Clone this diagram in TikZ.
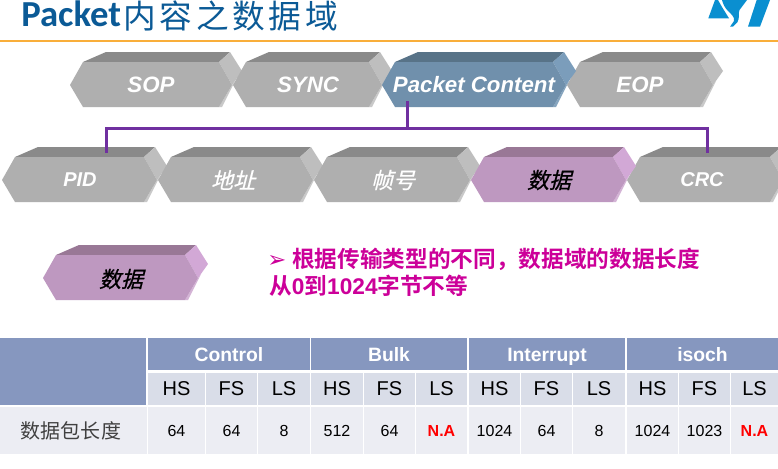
\documentclass[tikz,border=0pt]{standalone}
\usepackage{fontspec}
\setmainfont{Liberation Sans}
\newfontfamily\cjk{Noto Sans CJK SC}
\newfontfamily\cjkb{Noto Sans CJK SC Bold}
\newfontfamily\cjkit[FakeSlant=0.25,FakeBold=0.7]{Noto Sans CJK SC}
\newfontfamily\titlefont{Carlito Bold}
\newfontfamily\symfont{DejaVu Sans}
\definecolor{titleblue}{HTML}{0B5A96}
\definecolor{rulecol}{HTML}{F9AE3A}
\definecolor{logoblue}{HTML}{0A8FD0}
\definecolor{busc}{HTML}{7030A0}
\definecolor{gF}{HTML}{AFAFAF}\definecolor{gT}{HTML}{8A8A8A}\definecolor{gS}{HTML}{BEBEBE}\definecolor{gL}{HTML}{C9C9C9}
\definecolor{bF}{HTML}{7090AC}\definecolor{bT}{HTML}{587388}\definecolor{bS}{HTML}{7B9DBB}\definecolor{bL}{HTML}{86A5BF}
\definecolor{pF}{HTML}{BE98C0}\definecolor{pT}{HTML}{997896}\definecolor{pS}{HTML}{D2A8D6}\definecolor{pL}{HTML}{D4B4D6}
\definecolor{headc}{HTML}{8697BF}
\definecolor{subc}{HTML}{D9DDE8}
\definecolor{rowc}{HTML}{ECEDF3}
\definecolor{pinkc}{HTML}{CC0099}
\definecolor{nac}{HTML}{FF0000}
\tikzset{
  x=0.75pt,y=-0.75pt,
  blocklabel/.style={inner sep=0pt,anchor=center,font=\bfseries\itshape\fontsize{16.7}{16.7}\selectfont},
  smalllabel/.style={inner sep=0pt,anchor=center,font=\bfseries\itshape\fontsize{15}{15}\selectfont},
  cjklabel/.style={inner sep=0pt,anchor=center,font=\cjkit\fontsize{16.5}{16.5}\selectfont},
  bus/.style={draw=busc,line width=2.25pt},
  cellbox/.style={inner sep=0pt,anchor=center,outer sep=0pt},
  headcell/.style={cellbox,fill=headc,text=white,text height=12pt,text depth=1.5pt,font=\bfseries\fontsize{14.5}{14.5}\selectfont},
  subcell/.style={cellbox,fill=subc,text=black,font=\fontsize{15}{15}\selectfont},
  valcell/.style={cellbox,fill=rowc,text=black,font=\fontsize{12}{12}\selectfont},
  nacell/.style={cellbox,fill=rowc,text=nac,font=\bfseries\fontsize{12}{12}\selectfont},
}
% #1 tip left, #2 tip right, #3 top y, #4 colour prefix
\newcommand{\hexblock}[4]{%
  \fill[#4T] (#1+13,#3+10) -- (#1+36,#3) -- (#2-2,#3) -- (#2-13,#3+10) -- cycle;
  \fill[#4S] (#2-13,#3+10) -- (#2-2,#3) -- (#2+10,#3+19) -- (#2,#3+33) -- cycle;
  \fill[#4L] (#2,#3+33) -- (#2+3,#3+29) -- (#2-10,#3+55) -- (#2-13,#3+55) -- cycle;
  \fill[#4F] (#1,#3+33) -- (#1+13,#3+10) -- (#2-13,#3+10) -- (#2,#3+33) -- (#2-13,#3+55) -- (#1+13,#3+55) -- cycle;
}
% #1 name #2 x0 #3 x1 #4 y0 #5 y1 #6 style #7 text
\newcommand{\tcell}[7]{%
  \pgfmathsetmacro{\cw}{(#3-#2)*0.75}\pgfmathsetmacro{\ch}{(#5-#4)*0.75}%
  \node[#6,minimum width=\cw pt,minimum height=\ch pt] (#1) at ({(#2+#3)/2},{(#4+#5)/2}) {#7};
}
\begin{document}
\begin{tikzpicture}
\clip (0,0) rectangle (778,468);
\fill[white] (0,0) rectangle (778,468);
% title
\node[inner sep=0pt,anchor=base west,text=titleblue,font=\titlefont\fontsize{27.5}{27.5}\selectfont] (title) at (21,26) {Packet};
\node[inner sep=0pt,anchor=base west,text=titleblue,font=\cjk\fontsize{24.5}{24.5}\selectfont] (titlecjk) at (123,28.7) {内\hspace{2.8pt}容\hspace{2.8pt}之\hspace{2.8pt}数\hspace{2.8pt}据\hspace{2.8pt}域};
\fill[rulecol] (0,39.5) rectangle (778,41.5);
% logo
\fill[logoblue] (708.3,18.3) -- (715,0) -- (718,0) -- (722,7) -- (729,18.3) -- cycle;
\fill[logoblue] (722,0) -- (747,0) -- (739.5,10) .. controls (738,13) and (740,18) .. (737.5,22) -- (733,26.7) -- (730,26.7) -- (734,21) .. controls (735,17) and (731,14) .. (728,11) .. controls (725,8) and (723,4) .. (722,0) -- cycle;
\fill[logoblue] (748,26.7) -- (760,26.7) -- (770,0) -- (756.7,0) -- cycle;
% row 1
\hexblock{70}{232}{52}{g}
\hexblock{233}{382}{52}{g}
\hexblock{567}{713}{52}{g}
\hexblock{382}{566}{52}{b}
% row 2
\hexblock{2}{157}{147}{g}
\hexblock{158}{313}{147}{g}
\hexblock{314}{470}{147}{g}
\hexblock{627}{783}{147}{g}
\hexblock{471}{626}{147}{p}
% large
\hexblock{43}{198}{245}{p}
% labels
\node[blocklabel,text=white] (sop) at (151,85) {SOP};
\node[blocklabel,text=white] (sync) at (308,85) {SYNC};
\node[blocklabel,text=white] (pc) at (474,85) {Packet Content};
\node[blocklabel,text=white] (eop) at (640,85) {EOP};
\node[smalllabel,text=white] (pid) at (80,180) {PID};
\node[cjklabel,text=white] (addr) at (233,180) {地址};
\node[cjklabel,text=white] (frame) at (393,180) {帧号};
\node[cjklabel,text=black] (data) at (549,180) {数据};
\node[smalllabel,text=white] (crc) at (702,180) {CRC};
\node[cjklabel,text=black] (datab) at (121,279) {数据};
% connector
\coordinate (pcb) at (407,101);
\coordinate (junc) at (407,128);
\coordinate (pidt) at (106,153);
\coordinate (crct) at (707,153);
\draw[bus] (pcb) -- (junc);
\draw[bus] (pidt) |- (junc) -| (crct);
% description
\node[inner sep=0pt,anchor=base west,text=pinkc,font=\symfont\fontsize{17}{17}\selectfont] (bul) at (267,267) {➢};
\node[inner sep=0pt,anchor=base west,text=pinkc,font=\cjkb\fontsize{17}{17}\selectfont] (l1) at (292,267) {根据传输类型的不同，数据域的数据长度};
\node[inner sep=0pt,anchor=base west,text=pinkc,font=\cjkb\fontsize{17}{17}\selectfont] (l2) at (269,294) {从{\rmfamily\bfseries 0}到{\rmfamily\bfseries 1024}字节不等};
% table
\tcell{corner}{0}{146}{338}{405}{headcell}{}
\tcell{hc}{148}{310}{338}{370}{headcell}{Control}
\tcell{hb}{311}{467}{338}{370}{headcell}{Bulk}
\tcell{hi}{469}{625}{338}{370}{headcell}{Interrupt}
\tcell{hs}{627}{778}{338}{370}{headcell}{isoch}
\foreach \nm/\a/\b/\t/\st/\v in {
 a/148/205/HS/valcell/64, b/206/257/FS/valcell/64, c/258/310/LS/valcell/8,
 d/311/363/HS/valcell/512, e/364/415/FS/valcell/64, f/416/467/LS/nacell/N.A,
 g/469/520/HS/valcell/1024, h/521/572/FS/valcell/64, i/573/625/LS/valcell/8,
 j/627/678/HS/valcell/1024, k/679/730/FS/valcell/1023, l/731/778/LS/nacell/N.A}{
  \tcell{s\nm}{\a}{\b}{373}{405}{subcell}{\t}
  \tcell{v\nm}{\a}{\b}{407}{454}{\st}{\v}
}
\fill[rowc] (0,407) rectangle (147,454);
\node[inner sep=0pt,anchor=center,text=black!75,font=\cjk\fontsize{15}{15}\selectfont] (rowh) at (71,431) {数据包长度};
\end{tikzpicture}
\end{document}
